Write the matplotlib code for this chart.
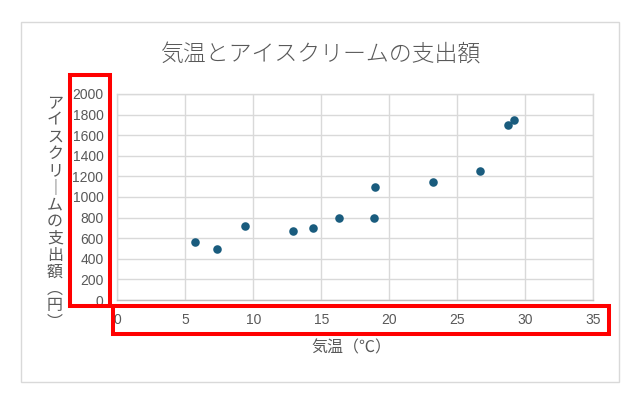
import matplotlib
matplotlib.use("Agg")
import matplotlib.pyplot as plt
from matplotlib.patches import Rectangle

temps = [5.7, 7.3, 9.4, 12.9, 14.4, 16.3, 18.9, 18.95, 23.2, 26.7, 28.7, 29.2]
spend = [560, 500, 720, 670, 700, 800, 800, 1100, 1150, 1250, 1700, 1750]
x_ticks = [0, 5, 10, 15, 20, 25, 30, 35]
y_ticks = [0, 200, 400, 600, 800, 1000, 1200, 1400, 1600, 1800, 2000]
title = "気温とアイスクリームの支出額"
x_label = "気温（℃）"
y_label_chars = ["ア", "イ", "ス", "ク", "リ", "｜", "ム", "の", "支", "出", "額", "︵", "円", "︶"]

W, H = 640, 394
fig = plt.figure(figsize=(W / 100, H / 100), dpi=100)
fig.patch.set_facecolor("white")

def fx(px):
    return px / W

def fy(py):
    return 1 - py / H

# outer chart border
fig.patches.append(Rectangle((fx(21), fy(382)), fx(619) - fx(21), fy(22) - fy(382),
                             transform=fig.transFigure, fill=False, edgecolor="#d9d9d9",
                             linewidth=1.0))

ax = fig.add_axes([fx(117.3), fy(300), fx(593.3) - fx(117.3), fy(94) - fy(300)])
ax.scatter(temps, spend, s=38, color="#1a5c7e", zorder=3, linewidths=0)
ax.set_xlim(0, 35)
ax.set_ylim(0, 2000)
ax.set_xticks(x_ticks)
ax.set_yticks(y_ticks)
ax.grid(True, color="#d9d9d9", linewidth=1.0)
ax.set_axisbelow(True)
for s in ax.spines.values():
    s.set_color("#d9d9d9")
    s.set_linewidth(1.0)
ax.spines["bottom"].set_color("#bfbfbf")
ax.tick_params(length=0, labelsize=10, labelcolor="#595959")
for lab in ax.get_xticklabels() + ax.get_yticklabels():
    lab.set_fontfamily(["Liberation Sans", "DejaVu Sans"])
ax.tick_params(axis="x", pad=9)
ax.tick_params(axis="y", pad=10)

cjk = ["Noto Sans CJK JP", "DejaVu Sans"]
fig.text(fx(321), fy(55), title, ha="center", va="center", fontsize=16.5,
         color="#595959", family=cjk, fontweight="light")
fig.text(fx(351), fy(348), x_label, ha="center", va="center", fontsize=11.5,
         color="#595959", family=cjk)
fig.text(fx(55), fy(213), "\n".join(y_label_chars), ha="center", va="center",
         fontsize=11.5, color="#595959", family=cjk, linespacing=0.99)

# red highlight boxes
fig.patches.append(Rectangle((fx(70), fy(306)), fx(110) - fx(70), fy(75) - fy(306),
                             transform=fig.transFigure, fill=False, edgecolor="#ff0000",
                             linewidth=2.9, zorder=10))
fig.patches.append(Rectangle((fx(113), fy(334)), fx(609) - fx(113), fy(306) - fy(334),
                             transform=fig.transFigure, fill=False, edgecolor="#ff0000",
                             linewidth=2.9, zorder=10))

fig.savefig("out.png", dpi=100)
